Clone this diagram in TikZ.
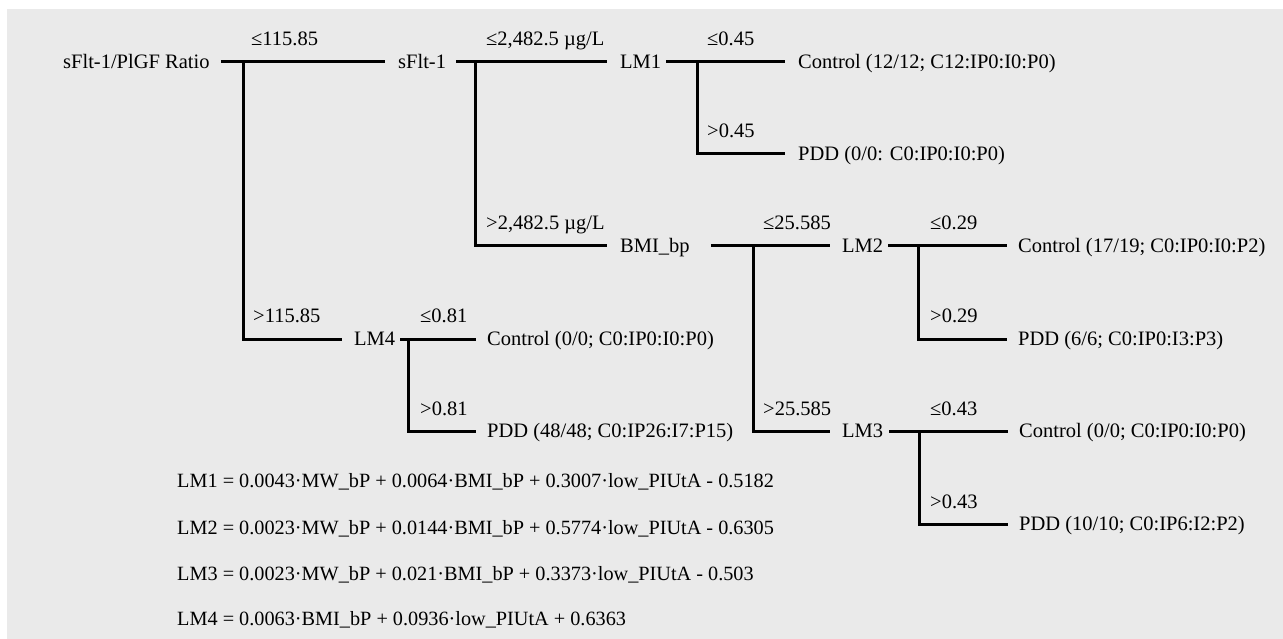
\documentclass[tikz,border=0pt]{standalone}
\usepackage{fontspec}
\setmainfont{Liberation Serif}
\definecolor{panel}{HTML}{EAEAEA}
\begin{document}
\begin{tikzpicture}[x=1pt,y=-1pt,
  every node/.style={font=\fontsize{20.5}{24}\selectfont, text=black},
  tnode/.style={anchor=west, inner xsep=0pt, inner ysep=0pt, text height=13.6pt, text depth=0pt},
  lbl/.style={anchor=base west, inner sep=0pt},
  eqn/.style={anchor=base west, inner sep=0pt, font=\fontsize{20.25}{24}\selectfont},
  branch/.style={line width=3pt, line cap=butt, line join=miter}]
\useasboundingbox (0,0) rectangle (1283,639);
\fill[white] (0,0) rectangle (1283,639);
\fill[panel] (7,9) rectangle (1283,639);
% rows
\def\ra{62}\def\rb{154}\def\rc{246}\def\rd{339}\def\re{431}\def\rf{524}
% nodes
\node[tnode] (root) at (63,\ra) {sFlt-1/PlGF Ratio};
\node[tnode] (sflt) at (398,\ra) {sFlt-1};
\node[tnode] (lm1) at (620,\ra) {LM1};
\node[tnode] (c1) at (798,\ra) {Control (12/12; C12:IP0:I0:P0)};
\node[tnode] (p1) at (798,\rb) {PDD (0/0: C0:IP0:I0:P0)};
\node[tnode] (bmi) at (620,\rc) {BMI\_bp};
\node[tnode] (lm2) at (842,\rc) {LM2};
\node[tnode] (c2) at (1018,\rc) {Control (17/19; C0:IP0:I0:P2)};
\node[tnode] (p2) at (1018,\rd) {PDD (6/6; C0:IP0:I3:P3)};
\node[tnode] (lm4) at (354,\rd) {LM4};
\node[tnode] (c4) at (487,\rd) {Control (0/0; C0:IP0:I0:P0)};
\node[tnode] (p4) at (487,\re) {PDD (48/48; C0:IP26:I7:P15)};
\node[tnode] (lm3) at (842,\re) {LM3};
\node[tnode] (c3) at (1019,\re) {Control (0/0; C0:IP0:I0:P0)};
\node[tnode] (p3) at (1019,\rf) {PDD (10/10; C0:IP6:I2:P2)};
% split points
\coordinate (s0) at (243,\ra);
\coordinate (s1) at (475,\ra);
\coordinate (s2) at (697,\ra);
\coordinate (s3) at (753,\rc);
\coordinate (s4) at (918,\rc);
\coordinate (s5) at (408,\rd);
\coordinate (s6) at (919,\re);
% connectors
\draw[branch] ([xshift=11pt]root.east) -- ([xshift=-13pt]sflt.west);
\draw[branch] (s0) |- ([xshift=-12pt]lm4.west);
\draw[branch] ([xshift=10pt]sflt.east) -- ([xshift=-13pt]lm1.west);
\draw[branch] (s1) |- ([xshift=-13pt]bmi.west);
\draw[branch] ([xshift=5pt]lm1.east) -- ([xshift=-13pt]c1.west);
\draw[branch] (s2) |- ([xshift=-13pt]p1.west);
\draw[branch] ([xshift=21pt]bmi.east) -- ([xshift=-12pt]lm2.west);
\draw[branch] (s3) |- ([xshift=-12pt]lm3.west);
\draw[branch] ([xshift=5pt]lm2.east) -- ([xshift=-11pt]c2.west);
\draw[branch] (s4) |- ([xshift=-11pt]p2.west);
\draw[branch] ([xshift=5pt]lm4.east) -- ([xshift=-11pt]c4.west);
\draw[branch] (s5) |- ([xshift=-11pt]p4.west);
\draw[branch] ([xshift=6pt]lm3.east) -- ([xshift=-11pt]c3.west);
\draw[branch] (s6) |- ([xshift=-11pt]p3.west);
% branch labels
\node[lbl] (l0a) at (251,\ra-16) {≤115.85};
\node[lbl] (l0b) at (253,\rd-16) {>115.85};
\node[lbl] (l1a) at (486,\ra-16) {≤2,482.5 µg/L};
\node[lbl] (l1b) at (486,\rc-16) {>2,482.5 µg/L};
\node[lbl] (l2a) at (707,\ra-16) {≤0.45};
\node[lbl] (l2b) at (707,\rb-16) {>0.45};
\node[lbl] (l3a) at (763,\rc-16) {≤25.585};
\node[lbl] (l3b) at (763,\re-16) {>25.585};
\node[lbl] (l4a) at (930,\rc-16) {≤0.29};
\node[lbl] (l4b) at (930,\rd-16) {>0.29};
\node[lbl] (l5a) at (420,\rd-16) {≤0.81};
\node[lbl] (l5b) at (420,\re-16) {>0.81};
\node[lbl] (l6a) at (930,\re-16) {≤0.43};
\node[lbl] (l6b) at (930,\rf-16) {>0.43};
% equations
\node[eqn] (e1) at (177,487) {LM1 = 0.0043·MW\_bP + 0.0064·BMI\_bP + 0.3007·low\_PIUtA - 0.5182};
\node[eqn] (e2) at (177,534) {LM2 = 0.0023·MW\_bP + 0.0144·BMI\_bP + 0.5774·low\_PIUtA - 0.6305};
\node[eqn] (e3) at (177,580) {LM3 = 0.0023·MW\_bP + 0.021·BMI\_bP + 0.3373·low\_PIUtA - 0.503};
\node[eqn] (e4) at (177,625) {LM4 = 0.0063·BMI\_bP + 0.0936·low\_PIUtA + 0.6363};
\end{tikzpicture}
\end{document}
